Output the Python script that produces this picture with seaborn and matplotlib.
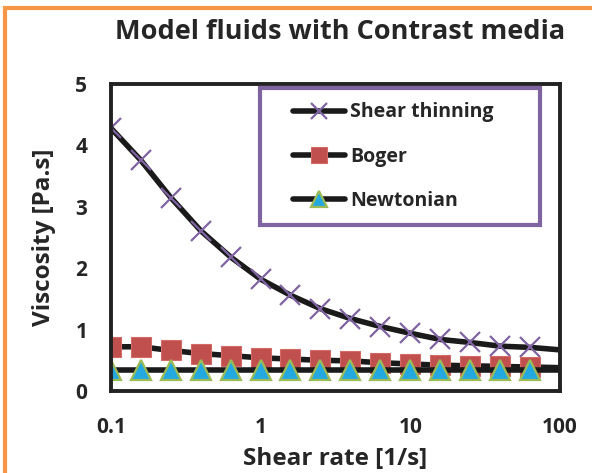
import numpy as np
import matplotlib.pyplot as plt
import matplotlib.patches as mpatches
import seaborn as sns

sns.set_style("white")
plt.rcParams['font.family'] = ['Open Sans', 'DejaVu Sans']
plt.rcParams['font.weight'] = 'bold'

# Shear rates: 15 measured points plus the end of the model curve at 100 1/s
shear_rate = [0.1, 0.158, 0.251, 0.398, 0.631, 1.0, 1.58, 2.51, 3.98, 6.31,
              10.0, 15.8, 25.1, 39.8, 63.1, 100.0]
shear_thinning = [4.28, 3.76, 3.15, 2.61, 2.18, 1.82, 1.56, 1.34, 1.18, 1.05,
                  0.94, 0.84, 0.79, 0.73, 0.71, 0.67]
boger = [0.72, 0.72, 0.66, 0.61, 0.575, 0.54, 0.52, 0.50, 0.49, 0.46,
         0.44, 0.42, 0.41, 0.40, 0.39, 0.38]
newtonian = [0.34, 0.34, 0.34, 0.34, 0.34, 0.34, 0.34, 0.34, 0.34, 0.34,
             0.34, 0.34, 0.34, 0.34, 0.34, 0.34]
n_markers = 15

fig = plt.figure(figsize=(5.92, 4.73), dpi=100)
ax = fig.add_axes([0.1875, 0.1734, 0.7585, 0.649])

marks = list(range(n_markers))
sns.lineplot(x=shear_rate, y=shear_thinning, ax=ax, color='#1a1a1a', lw=4,
             marker='x', ms=14, mec='#8064A2', mew=1.6, markevery=marks,
             label='Shear thinning', sort=False)
sns.lineplot(x=shear_rate, y=boger, ax=ax, color='#1a1a1a', lw=4,
             marker='s', ms=14, mfc='#C0504D', mec='#D46A66', mew=0.8,
             markevery=marks, label='Boger', sort=False)
sns.lineplot(x=shear_rate, y=newtonian, ax=ax, color='#1a1a1a', lw=4,
             marker='^', ms=15, mfc='#23A9DF', mec='#9BBB59', mew=1.6,
             markevery=marks, label='Newtonian', sort=False)

ax.set_xscale('log')
ax.set_xlim(0.1, 100)
ax.set_ylim(0, 5)
ax.set_xticks([0.1, 1, 10, 100])
ax.set_xticklabels(['0.1', '1', '10', '100'])
ax.set_yticks([0, 1, 2, 3, 4, 5])
ax.minorticks_off()
ax.tick_params(axis='both', direction='out', length=5, width=1.2, color='#888888',
               labelsize=15)
ax.tick_params(axis='x', pad=14)
ax.tick_params(axis='y', pad=12)
for lab in ax.get_xticklabels() + ax.get_yticklabels():
    lab.set_fontweight('bold')

for side in ['top', 'right', 'left', 'bottom']:
    ax.spines[side].set_visible(True)
    ax.spines[side].set_color('#222222')
    ax.spines[side].set_linewidth(2.8)

ax.set_xlabel('Shear rate [1/s]', fontsize=17.5, fontweight='bold', labelpad=6)
ax.set_ylabel('Viscosity [Pa.s]', fontsize=17.5, fontweight='bold', labelpad=14)
fig.text(0.575, 0.933, 'Model fluids with Contrast media', fontsize=19.5,
         fontweight='bold', ha='center', va='center')

# legend box drawn by hand so the entries sit centred inside it
ax.add_patch(mpatches.Rectangle((0.332, 0.541), 0.623, 0.446,
                                transform=ax.transAxes, facecolor='white',
                                edgecolor='#8064A2', linewidth=3,
                                zorder=4.5, clip_on=False))
leg = ax.legend(loc='upper left', bbox_to_anchor=(0.405, 0.94), frameon=False,
                fontsize=14, handlelength=2.7, handletextpad=0.25,
                labelspacing=1.25, borderpad=0, borderaxespad=0)
leg.set_zorder(5)
for h in leg.legend_handles:
    h.set_markersize(11)
for t in leg.get_texts():
    t.set_fontweight('bold')

# orange outer frame, only its top and left edges are in view
fig.patches.append(mpatches.Rectangle((5 / 592, -0.1), 1.2, 1.1 - 8 / 473,
                                      transform=fig.transFigure, fill=False,
                                      edgecolor='#F79646', linewidth=3))

fig.savefig('out.png', dpi=100)
